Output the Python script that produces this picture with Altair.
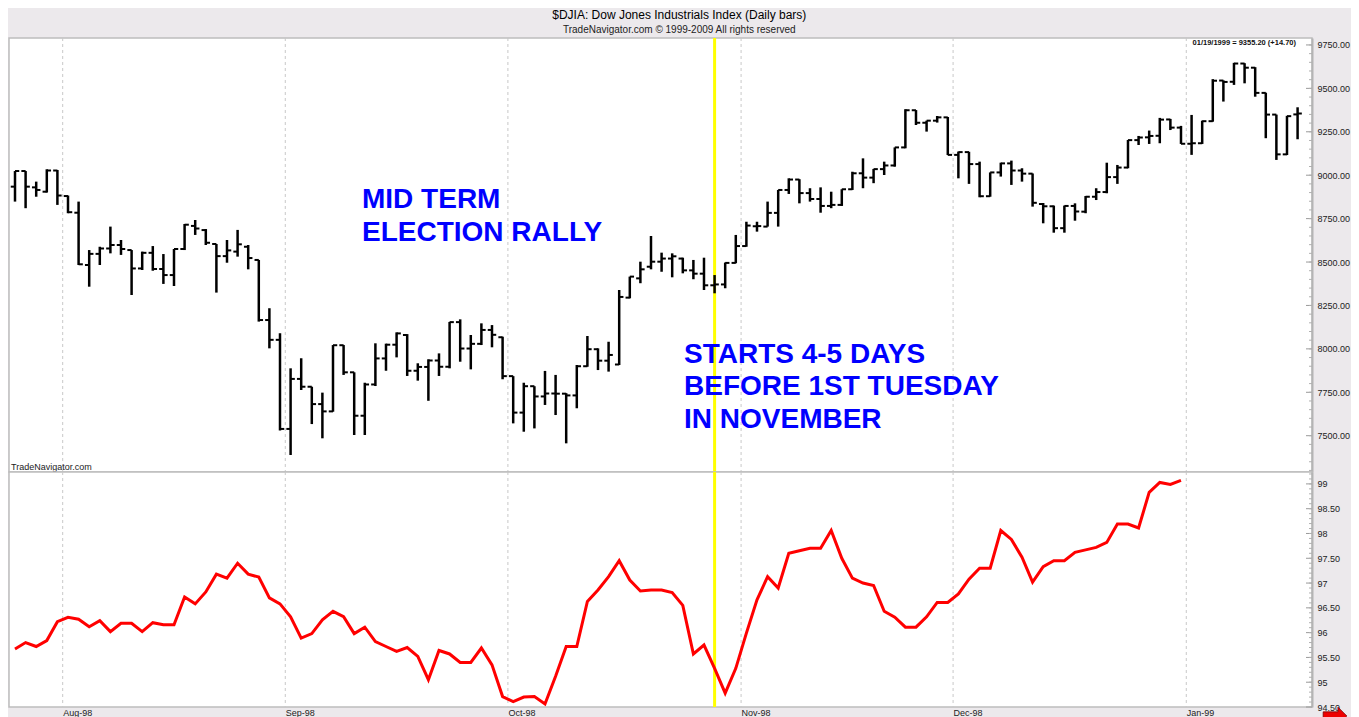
import altair as alt
import pandas as pd

# ---------------- data ----------------
# one entry per trading day, 27 Jul 1998 .. 19 Jan 1999
open_ = [8934, 9024, 8930, 8905, 9027, 8880, 8784, 8483, 8547, 8578,
         8598, 8569, 8463, 8553, 8460, 8425, 8575, 8708, 8684, 8604,
         8534, 8560, 8588, 8512, 8166, 8052, 7539, 7827, 7782, 7682,
         7640, 8021, 7865, 7615, 7795, 7945, 8024, 8080, 7874, 7896,
         7933, 7897, 8154, 8002, 8029, 8109, 8067, 7843, 7633, 7785,
         7726, 7743, 7742, 7732, 7900, 7998, 7932, 7910, 8295, 8406,
         8473, 8502, 8520, 8520, 8452, 8433, 8366, 8371, 8495, 8592,
         8706, 8704, 8783, 8915, 8975, 8897, 8863, 8823, 8829, 8919,
         9011, 8986, 9035, 9056, 9160, 9374, 9302, 9314, 9333, 9117,
         9133, 9064, 8879, 9016, 9068, 9027, 9009, 8834, 8821, 8695,
         8823, 8790, 8876, 8903, 8989, 9044, 9202, 9218, 9227, 9321,
         9274, 9181, 9184, 9311, 9545, 9538, 9643, 9619, 9474, 9349,
         9120, 9350]
high_ = [9024, 9024, 8963, 9034, 9030, 8883, 8848, 8569, 8588, 8704,
         8627, 8569, 8560, 8592, 8546, 8575, 8719, 8742, 8690, 8604,
         8627, 8685, 8598, 8512, 8234, 8090, 7888, 7946, 7782, 7748,
         8022, 8022, 7865, 7805, 8032, 8030, 8095, 8085, 7917, 7940,
         7974, 8155, 8170, 8080, 8147, 8137, 8070, 7843, 7805, 7785,
         7873, 7850, 7745, 7907, 8074, 8003, 8041, 8339, 8416, 8502,
         8650, 8554, 8550, 8525, 8512, 8525, 8425, 8497, 8656, 8732,
         8732, 8848, 8915, 8982, 8977, 8925, 8930, 8905, 8919, 9020,
         9097, 9036, 9078, 9160, 9380, 9375, 9314, 9341, 9335, 9136,
         9135, 9078, 9016, 9072, 9084, 9040, 9010, 8840, 8825, 8825,
         8838, 8880, 8925, 9072, 9059, 9203, 9226, 9257, 9330, 9324,
         9284, 9347, 9314, 9553, 9546, 9647, 9645, 9622, 9475, 9349,
         9342, 9391]
low_ = [8848, 8810, 8876, 8900, 8829, 8781, 8483, 8358, 8483, 8550,
        8541, 8310, 8454, 8450, 8374, 8362, 8569, 8656, 8598, 8324,
        8496, 8531, 8458, 8157, 8003, 7530, 7389, 7763, 7567, 7485,
        7638, 7850, 7504, 7504, 7786, 7874, 7951, 7844, 7817, 7701,
        7844, 7888, 7926, 7882, 8022, 8009, 7825, 7571, 7523, 7542,
        7677, 7619, 7456, 7658, 7897, 7878, 7869, 7907, 8291, 8378,
        8458, 8444, 8412, 8435, 8401, 8339, 8320, 8349, 8493, 8588,
        8675, 8704, 8704, 8892, 8838, 8848, 8784, 8810, 8823, 8915,
        8925, 8954, 9001, 9049, 9155, 9289, 9251, 9303, 9116, 8982,
        8950, 8873, 8876, 8992, 8944, 8963, 8819, 8723, 8669, 8669,
        8738, 8781, 8857, 8896, 8950, 9040, 9174, 9180, 9184, 9260,
        9180, 9117, 9180, 9308, 9424, 9520, 9529, 9452, 9213, 9088,
        9116, 9207]
close_ = [9024, 8934, 8915, 9027, 8883, 8787, 8487, 8547, 8578, 8598,
          8575, 8463, 8553, 8460, 8425, 8575, 8715, 8693, 8611, 8534,
          8567, 8602, 8523, 8166, 8052, 7539, 7827, 7782, 7682, 7640,
          8021, 7865, 7615, 7795, 7945, 8024, 8089, 7874, 7896, 7933,
          7897, 8154, 8002, 8029, 8109, 8081, 7843, 7633, 7785, 7726,
          7743, 7742, 7732, 7900, 7998, 7932, 7965, 8299, 8416, 8458,
          8502, 8520, 8533, 8452, 8433, 8366, 8371, 8495, 8592, 8710,
          8707, 8783, 8915, 8975, 8897, 8863, 8823, 8829, 8919, 9011,
          8986, 9035, 9056, 9160, 9374, 9302, 9314, 9333, 9117, 9133,
          9064, 8879, 9016, 9068, 9027, 9009, 8841, 8821, 8695, 8823,
          8791, 8876, 8903, 8989, 9044, 9202, 9217, 9226, 9320, 9274,
          9181, 9184, 9311, 9544, 9537, 9643, 9619, 9474, 9349, 9120,
          9340, 9355.2]
# lower-panel indicator, 27 Jul 1998 .. 31 Dec 1998
osc = [95.67, 95.80, 95.72, 95.84, 96.22, 96.31, 96.27, 96.12, 96.24, 96.02,
       96.19, 96.19, 96.02, 96.20, 96.16, 96.16, 96.72, 96.58, 96.82, 97.18,
       97.10, 97.40, 97.18, 97.12, 96.70, 96.58, 96.32, 95.89, 95.98, 96.26,
       96.43, 96.32, 95.98, 96.11, 95.82, 95.72, 95.62, 95.70, 95.52, 95.05,
       95.64, 95.57, 95.40, 95.40, 95.69, 95.35, 94.71, 94.61, 94.70, 94.71,
       94.56, 95.12, 95.72, 95.72, 96.63, 96.86, 97.13, 97.45, 97.06, 96.84,
       96.86, 96.86, 96.81, 96.55, 95.57, 95.75, 95.28, 94.78, 95.28, 95.99,
       96.66, 97.13, 96.90, 97.60, 97.65, 97.70, 97.70, 98.06, 97.50, 97.10,
       97.00, 96.95, 96.43, 96.31, 96.11, 96.11, 96.32, 96.61, 96.61, 96.78,
       97.08, 97.30, 97.30, 98.06, 97.88, 97.52, 97.02, 97.33, 97.45, 97.45,
       97.62, 97.67, 97.72, 97.82, 98.19, 98.19, 98.11, 98.83, 99.03, 98.99,
       99.07]
month_labels = ["Aug-98", "Sep-98", "Oct-98", "Nov-98", "Dec-98", "Jan-99"]
month_bounds = [4.5, 25.5, 46.5, 68.5, 88.5, 110.5]   # between last and first trading day
price_labels = [7500, 7750, 8000, 8250, 8500, 8750, 9000, 9250, 9500, 9750]
osc_labels = [94.5, 95, 95.5, 96, 96.5, 97, 97.5, 98, 98.5, 99]
marker_day = [66]   # 28 Oct 1998

# ---------------- frames ----------------
n = len(close_)
bars = pd.DataFrame({"i": list(range(n)), "o": open_, "h": high_, "l": low_, "c": close_})
osc_df = pd.DataFrame({"i": list(range(len(osc))), "v": osc})
bounds_df = pd.DataFrame({"b": month_bounds})
marker_df = pd.DataFrame({"i": marker_day})
p_major = pd.DataFrame({"v": price_labels})
p_minor = pd.DataFrame({"v": [7300 + 50 * k for k in range(50)]})
o_major = pd.DataFrame({"v": osc_labels})
o_minor = pd.DataFrame({"v": [round(94.5 + 0.1 * k, 2) for k in range(48)]})

W = 1303
H_TOP = 434
H_BOT = 235
FONT = "Liberation Sans"
GRID = "#c8c8c8"
BLUE = "#0000ff"

xscale = alt.Scale(domain=[-0.566, 122.36], nice=False, zero=False)
pscale = alt.Scale(domain=[7291, 9790], nice=False, zero=False)
oscale = alt.Scale(domain=[94.5, 99.24], nice=False, zero=False)

p_axis = alt.Axis(orient="right", values=price_labels, format=".2f", ticks=False,
                  domain=True, domainColor="#b4b4b4", domainWidth=2, labelPadding=5,
                  labelFont=FONT, labelFontSize=9, labelColor="#222", grid=False, title=None)
o_axis = alt.Axis(orient="right", values=osc_labels, ticks=False,
                  labelExpr="datum.value % 1 === 0 ? format(datum.value, 'd') : format(datum.value, '.2f')",
                  domain=True, domainColor="#b4b4b4", domainWidth=2, labelPadding=5,
                  labelFont=FONT, labelFontSize=9, labelColor="#222", grid=False, title=None)
x_axis = alt.Axis(values=month_bounds, ticks=False, domain=False, grid=False, title=None,
                  labelExpr="[" + ",".join("'%s'" % m for m in month_labels) + "][indexof(["
                  + ",".join(str(b) for b in month_bounds) + "], datum.value)]",
                  labelAlign="left", labelPadding=1, labelFont=FONT, labelFontSize=9,
                  labelColor="#222")


def PX(f):
    return alt.X(f, type="quantitative", scale=xscale, axis=None)


def PY(f):
    return alt.Y(f, type="quantitative", scale=pscale, axis=p_axis)


def OY(f):
    return alt.Y(f, type="quantitative", scale=oscale, axis=o_axis)


# ---------------- top panel ----------------
grid_top = alt.Chart(bounds_df).mark_rule(color=GRID, strokeDash=[3, 3], strokeWidth=1).encode(x=PX("b"))
yellow_top = alt.Chart(marker_df).mark_rule(color="#ffff00", strokeWidth=3).encode(x=PX("i"))
hl = alt.Chart(bars).mark_rule(color="black", strokeWidth=2.5).encode(x=PX("i"), y=PY("l"), y2="h:Q")
op = (alt.Chart(bars).transform_calculate(il="datum.i - 0.4")
      .mark_rule(color="black", strokeWidth=2).encode(x=PX("il"), x2="i:Q", y=PY("o")))
cl = (alt.Chart(bars).transform_calculate(ir="datum.i + 0.4")
      .mark_rule(color="black", strokeWidth=2).encode(x=PX("i"), x2="ir:Q", y=PY("c")))
pmaj = alt.Chart(p_major).mark_rule(color="#9a9a9a").encode(y=PY("v"), x=alt.value(W - 6), x2=alt.value(W))
pmin = alt.Chart(p_minor).mark_rule(color="#b0b0b0").encode(y=PY("v"), x=alt.value(W - 3), x2=alt.value(W))


def label(txt, x, y, size=28, weight="bold", color=BLUE, align="left", font=FONT):
    return alt.Chart(pd.DataFrame({"t": [txt]})).mark_text(
        font=font, fontSize=size, fontWeight=weight, color=color, align=align, baseline="middle"
    ).encode(text="t:N", x=alt.value(x), y=alt.value(y))


ann = [
    label("MID TERM", 353, 162),
    label("ELECTION RALLY", 353, 195),
    label("STARTS 4-5 DAYS", 675, 317),
    label("BEFORE 1ST TUESDAY", 675, 349),
    label("IN NOVEMBER", 675, 382),
    label("TradeNavigator.com", 2, 429, size=9, weight="normal", color="#222"),
    label("01/19/1999 = 9355.20 (+14.70)", 1287, 5, size=7.5, weight="bold", color="#111", align="right"),
]

top = alt.layer(grid_top, yellow_top, hl, op, cl, pmaj, pmin, *ann).properties(width=W, height=H_TOP)

# ---------------- bottom panel ----------------
grid_bot = (alt.Chart(bounds_df).mark_rule(color=GRID, strokeDash=[3, 3], strokeWidth=1)
            .encode(x=alt.X("b:Q", scale=xscale, axis=x_axis)))
yellow_bot = alt.Chart(marker_df).mark_rule(color="#ffff00", strokeWidth=3).encode(x=alt.X("i:Q", scale=xscale, axis=x_axis))
red = alt.Chart(osc_df).mark_line(color="#ff0000", strokeWidth=3).encode(
    x=alt.X("i:Q", scale=xscale, axis=x_axis), y=OY("v"))
omaj = alt.Chart(o_major).mark_rule(color="#9a9a9a").encode(y=OY("v"), x=alt.value(W - 6), x2=alt.value(W))
omin = alt.Chart(o_minor).mark_rule(color="#b0b0b0").encode(y=OY("v"), x=alt.value(W - 3), x2=alt.value(W))
# small red "next" arrow icon in the bottom-right corner
arrow = alt.Chart(pd.DataFrame({"k": [0]})).mark_point(
    shape="M-1,-0.35L0.25,-0.35L0.25,-0.75L1,0L0.25,0.75L0.25,0.35L-1,0.35Z",
    filled=True, fill="#ee0000", stroke="#7a0000", strokeWidth=0.8, opacity=1, size=560,
).encode(x=alt.value(W + 23), y=alt.value(H_BOT + 9))

bottom = alt.layer(grid_bot, yellow_bot, red, omaj, omin, arrow).properties(width=W, height=H_BOT)

chart = (
    alt.vconcat(top, bottom, spacing=0, bounds="flush")
    .properties(
        padding={"left": 0, "top": 0, "right": 0, "bottom": 0},
        title=alt.TitleParams(
            text="$DJIA:  Dow Jones Industrials Index  (Daily bars)",
            subtitle="TradeNavigator.com \u00a9 1999-2009 All rights reserved",
            anchor="middle", font=FONT, fontSize=12, fontWeight="normal", color="#000",
            subtitleFont=FONT, subtitleFontSize=10, subtitleColor="#222",
            subtitlePadding=3, offset=0,
        ),
    )
    .configure(background="#ece9ec")
    .configure_view(fill="white", stroke="#bdbdbd", strokeWidth=1.5)
)

chart.save("out.html", embed_options={"renderer": "svg", "actions": False})
